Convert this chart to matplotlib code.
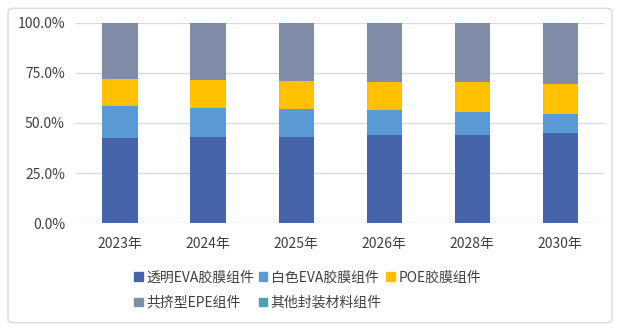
import matplotlib
matplotlib.use("Agg")
import matplotlib.pyplot as plt
from matplotlib.patches import FancyBboxPatch, Patch
from matplotlib.ticker import FuncFormatter

plt.rcParams['font.family'] = ['Noto Sans CJK SC', 'DejaVu Sans']

categories = ["2023年", "2024年", "2025年", "2026年", "2028年", "2030年"]
series_names = ["透明EVA胶膜组件", "白色EVA胶膜组件", "POE胶膜组件", "共挤型EPE组件", "其他封装材料组件"]
transparent_eva = [42.3, 42.8, 43.2, 43.8, 44.2, 44.8]
white_eva = [16.2, 14.9, 14.0, 12.5, 11.3, 9.5]
poe = [13.3, 13.8, 13.8, 14.2, 14.8, 15.2]
epe = [27.7, 28.0, 28.5, 29.0, 29.2, 30.0]
other = [0.5, 0.5, 0.5, 0.5, 0.5, 0.5]
colors = ["#4664AC", "#5B9BD5", "#FFC000", "#7F8DA9", "#4BA3AA"]

series = [transparent_eva, white_eva, poe, epe, other]

fig = plt.figure(figsize=(6.2, 3.31), dpi=100)
ax = fig.add_axes([0.1226, 0.326, 0.852, 0.605])

x = list(range(len(categories)))
bottom = [0.0] * len(categories)
for vals, col in zip(series, colors):
    v = [a / 100 for a in vals]
    ax.bar(x, v, width=0.4, bottom=bottom, color=col, zorder=3)
    bottom = [b + c for b, c in zip(bottom, v)]

ax.set_xlim(-0.5, len(categories) - 0.5)
ax.set_ylim(0, 1.0)
ax.set_yticks([0, 0.25, 0.5, 0.75, 1.0])
ax.yaxis.set_major_formatter(FuncFormatter(lambda v, p: f"{v*100:.1f}%"))
ax.set_xticks(x)
ax.set_xticklabels(categories)
ax.grid(axis='y', color='#D9D9D9', linewidth=1, zorder=0)
for s in ['top', 'right', 'left', 'bottom']:
    ax.spines[s].set_visible(False)
ax.tick_params(axis='both', length=0, labelsize=10, colors='#404040')
ax.tick_params(axis='x', pad=10)
ax.tick_params(axis='y', pad=8)

handles = [Patch(color=c) for c in colors]
order = [0, 3, 1, 4, 2]
leg = fig.legend([handles[i] for i in order], [series_names[i] for i in order],
                 ncol=3, loc='center', bbox_to_anchor=(0.496, 0.123), frameon=False,
                 fontsize=10, handlelength=0.6, handleheight=0.6, handletextpad=0.25,
                 columnspacing=0.35, labelspacing=0.8)
for t in leg.get_texts():
    t.set_color('#404040')

border = FancyBboxPatch((0.013, 0.025), 0.974, 0.95, boxstyle="round,pad=0,rounding_size=0.01",
                        transform=fig.transFigure, facecolor='none', edgecolor='#D9D9D9', linewidth=1)
fig.patches.append(border)

fig.savefig("out.png", dpi=100)
